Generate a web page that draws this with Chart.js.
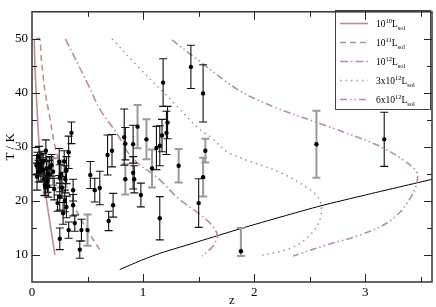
<!DOCTYPE html>
<html><head><meta charset="utf-8">
<script src="https://cdn.jsdelivr.net/npm/chart.js@4"></script>
<style>html,body{margin:0;padding:0;background:#fff}#wrap{width:436px;height:307px}</style>
</head><body><div id="wrap"><canvas id="c" width="436" height="307"></canvas></div>
<script>
// ---- tick labels ----
const xTickVals = [0, 1, 2, 3];
const yTickVals = [10, 20, 30, 40, 50];
// ---- model curves (z, T) ----
const c10z = [0.02, 0.03, 0.045, 0.065, 0.1, 0.145, 0.206];
const c10T = [50, 43.2, 37.3, 30.2, 24.3, 18.2, 10];
const c11z = [0.036, 0.07, 0.08, 0.1, 0.116, 0.16, 0.206, 0.28, 0.36, 0.46, 0.63];
const c11T = [50, 50, 47, 43.2, 40.3, 35.5, 30.2, 24.8, 20, 15.9, 10.3];
const c12z = [0.3, 0.52, 0.61, 0.77, 0.9, 1.15, 1.32, 1.5, 1.62, 1.67, 1.65, 1.62, 1.53];
const c12T = [50, 40.9, 37, 32.3, 28, 23.9, 20.4, 17.7, 15.5, 13.6, 12.4, 11.4, 9.8];
const c3z = [0.72, 0.97, 1.26, 1.5, 1.62, 1.77, 2.22, 2.52, 2.6, 2.58, 2.46, 2.31, 2.04];
const c3T = [50, 44.5, 38.5, 33.4, 31.6, 28.9, 25.4, 21.8, 19.5, 15.9, 12.9, 11.1, 9.8];
const c6z = [1.26, 1.48, 1.86, 2.19, 2.67, 3.12, 3.38, 3.47, 3.41, 3.23, 2.94, 2.64, 2.35];
const c6T = [49.8, 46.3, 40.5, 37.3, 33.75, 30.2, 27, 24.8, 20.7, 16.4, 13.6, 11.8, 9.8];
// ---- black line ----
const limZ = [0.79, 0.97, 1.15, 1.5, 1.88, 2.25, 2.6, 3.0, 3.6];
const limT = [7.3, 8.9, 10.3, 12.5, 14.9, 17.1, 19.1, 21.1, 24.0];
// ---- data points, black error bars ----
const zK = [0.045,0.063,0.08,0.09,0.125,0.116,0.146,0.176,0.04,0.05,0.072,0.1,0.1,0.13,0.14,0.16,0.12,0.152,0.06,
  0.245,0.25,0.25,0.23,0.25,0.33,0.355,0.31,0.29,0.37,0.37,0.385,0.33,0.43,0.445,0.2,0.27,0.295,0.31,0.28,0.3,
  0.525,0.565,0.61,0.68,0.72,0.73,0.69,0.83,0.84,0.91,0.91,0.92,0.98,
  1.12,1.15,1.17,1.21,1.22,1.15,1.18,1.43,1.54,1.5,3.17];
const TK = [24.5,28.1,26.0,27.2,29.3,23.0,22.7,26.6,26.6,27.0,26.6,25.7,27.3,26.0,23.6,26.2,22.5,25.0,25.5,
  27.2,24.2,20.8,19.6,13.0,29.0,32.6,25.7,27.3,22.0,19.2,15.9,14.6,11.0,14.6,22.2,22.5,20.0,18.9,17.7,24.0,
  24.8,22.0,22.4,28.5,29.3,19.2,16.3,31.8,30.6,30.5,25.2,24.0,21.1,
  29.8,30.2,32.1,32.6,34.5,16.8,41.9,44.8,39.9,19.6,31.4];
const eK = [2.5,2.0,2.5,2.0,2.0,2.0,2.0,2.0,1.8,2.0,2.0,2.0,1.5,2.0,2.0,2.0,1.5,2.5,2.0,
  2.5,2.5,2.5,1.5,2.0,3.0,2.0,2.5,2.0,2.0,2.0,1.5,1.5,1.6,2.0,2.0,2.0,2.0,2.0,2.0,2.5,
  2.5,2.2,3.1,3.7,3.0,2.2,1.8,5.2,3.0,3.5,3.0,2.5,2.2,
  4.0,3.7,3.0,4.0,3.0,4.0,4.4,4.0,5.3,4.5,5.0];
// ---- data points, grey error bars ----
const zG = [0.107,0.134,0.19,0.26,0.5,0.95,0.84,1.03,1.08,1.32,1.56,1.54,1.88,2.56];
const TG = [24.0,24.5,25.4,25.0,14.6,33.75,24.0,31.4,26.0,26.5,29.3,24.4,10.7,30.5];
const eGup = [3.0,3.0,2.5,2.5,2.9,4.0,2.8,3.7,3.5,3.1,2.2,3.6,4.3,6.2];
const eGdn = [3.0,3.0,2.5,2.5,2.9,4.0,2.8,3.7,3.5,3.1,2.2,3.6,0.9,6.2];
// ---- legend text ----
const legPre = ['10', '10', '10', '3x10', '6x10'];
const legExp = ['10', '11', '12', '12', '12'];

const pts = (a, b) => a.map((v, i) => ({x: v, y: b[i]}));
const ROSY = '#bc8f8f';
const SERIF = '"Liberation Serif", "DejaVu Serif", serif';

const curve = (z, T, dash) => ({
  type: 'scatter', data: pts(z, T), showLine: true, pointRadius: 0, borderColor: ROSY,
  borderWidth: 1.6, borderDash: dash, tension: 0.35, fill: false, legDash: dash
});

const datasets = [
  {data: pts(zK, TK), pointRadius: 2.2, backgroundColor: '#000', borderColor: '#000', borderWidth: 0,
   errUp: eK, errDn: eK, barColor: '#111', barWidth: 1.1},
  {data: pts(zG, TG), pointRadius: 2.2, backgroundColor: '#000', borderColor: '#000', borderWidth: 0,
   errUp: eGup, errDn: eGdn, barColor: '#9a9a9a', barWidth: 2},
  curve(c10z, c10T, []),
  curve(c11z, c11T, [6, 4]),
  curve(c12z, c12T, [8, 3, 1.5, 3]),
  curve(c3z, c3T, [1.5, 4]),
  curve(c6z, c6T, [7, 3, 1.5, 3, 1.5, 3]),
  {data: pts(limZ, limT), showLine: true, pointRadius: 0, borderColor: '#000', borderWidth: 1, tension: 0.2}
];

const errorBars = {
  id: 'errorBars',
  beforeDatasetDraw(chart, args) {
    const ds = chart.data.datasets[args.index];
    if (!ds.errUp) return;
    const {ctx, scales: {x, y}, chartArea: a} = chart;
    ctx.save();
    ctx.beginPath(); ctx.rect(a.left, a.top, a.width, a.height); ctx.clip();
    ctx.strokeStyle = ds.barColor; ctx.lineWidth = ds.barWidth; ctx.setLineDash([]);
    ds.data.forEach((p, i) => {
      const px = x.getPixelForValue(p.x);
      const yt = y.getPixelForValue(p.y + ds.errUp[i]);
      const yb = y.getPixelForValue(p.y - ds.errDn[i]);
      ctx.beginPath();
      ctx.moveTo(px, yt); ctx.lineTo(px, yb);
      ctx.moveTo(px - 4, yt); ctx.lineTo(px + 4, yt);
      ctx.moveTo(px - 4, yb); ctx.lineTo(px + 4, yb);
      ctx.stroke();
    });
    ctx.restore();
  }
};

const frameLegend = {
  id: 'frameLegend',
  afterDraw(chart) {
    const {ctx, scales: {x, y}, chartArea: a} = chart;
    ctx.save();
    // legend box
    const lx = 335, ly = 10, lw = 95, lh = 99;
    ctx.fillStyle = '#fff'; ctx.fillRect(lx, ly, lw, lh);
    ctx.strokeStyle = '#444'; ctx.lineWidth = 1; ctx.setLineDash([]);
    ctx.strokeRect(lx + 0.5, ly + 0.5, lw, lh);
    const cds = chart.data.datasets.slice(2, 7);
    cds.forEach((ds, i) => {
      const cy = 23.5 + i * 19;
      ctx.strokeStyle = ROSY; ctx.lineWidth = 1.6; ctx.setLineDash(ds.legDash);
      ctx.beginPath(); ctx.moveTo(340, cy); ctx.lineTo(368, cy); ctx.stroke();
      ctx.setLineDash([]);
      ctx.fillStyle = '#000'; ctx.textBaseline = 'alphabetic'; ctx.textAlign = 'left';
      let tx = 376; const base = cy + 3.5;
      ctx.font = '9.5px ' + SERIF; ctx.fillText(legPre[i], tx, base); tx += ctx.measureText(legPre[i]).width;
      ctx.font = '6.5px ' + SERIF; ctx.fillText(legExp[i], tx, base - 4.5); tx += ctx.measureText(legExp[i]).width;
      ctx.font = '9.5px ' + SERIF; ctx.fillText('L', tx, base); tx += ctx.measureText('L').width;
      ctx.font = '6.5px ' + SERIF; ctx.fillText('sol', tx, base + 2.5);
    });
    // frame
    ctx.strokeStyle = '#333'; ctx.lineWidth = 1.5;
    ctx.strokeRect(a.left, a.top, a.width, a.height);
    // inward ticks
    ctx.lineWidth = 1; ctx.strokeStyle = '#222';
    for (let v = 0.5; v < 3.6; v += 0.5) {
      const L = Math.abs(v - Math.round(v)) < 1e-6 ? 8 : 5;
      const px = Math.round(x.getPixelForValue(v)) + 0.5;
      ctx.beginPath();
      ctx.moveTo(px, a.bottom); ctx.lineTo(px, a.bottom - L);
      ctx.moveTo(px, a.top); ctx.lineTo(px, a.top + L);
      ctx.stroke();
    }
    for (let v = 10; v < 55; v += 5) {
      const L = v % 10 === 0 ? 8 : 5;
      const py = Math.round(y.getPixelForValue(v)) + 0.5;
      ctx.beginPath();
      ctx.moveTo(a.left, py); ctx.lineTo(a.left + L, py);
      ctx.moveTo(a.right, py); ctx.lineTo(a.right - L, py);
      ctx.stroke();
    }
    ctx.restore();
  }
};

new Chart(document.getElementById('c'), {
  type: 'scatter',
  data: {datasets},
  plugins: [errorBars, frameLegend],
  options: {
    responsive: false, animation: false, devicePixelRatio: 1,
    layout: {padding: {top: 1, right: 2, left: 0, bottom: 0}},
    plugins: {legend: {display: false}, tooltip: {enabled: false}},
    scales: {
      x: {
        type: 'linear', min: 0, max: 3.6,
        afterBuildTicks: s => { s.ticks = xTickVals.map(v => ({value: v})); },
        afterFit: s => { s.height = 25; },
        grid: {display: false, drawTicks: false}, border: {display: false},
        ticks: {color: '#000', font: {family: SERIF, size: 13}, padding: 3, maxRotation: 0},
        title: {display: true, text: 'z', color: '#000', font: {family: SERIF, size: 13, lineHeight: 1}, padding: 0}
      },
      y: {
        type: 'linear', min: 5, max: 55,
        afterBuildTicks: s => { s.ticks = yTickVals.map(v => ({value: v})); },
        afterFit: s => { s.width = 32; },
        grid: {display: false, drawTicks: false}, border: {display: false},
        ticks: {color: '#000', font: {family: SERIF, size: 13}, padding: 4},
        title: {display: true, text: 'T / K', color: '#000', font: {family: SERIF, size: 13, lineHeight: 1}, padding: {top: 4, bottom: 0}}
      }
    }
  }
});
</script></body></html>
